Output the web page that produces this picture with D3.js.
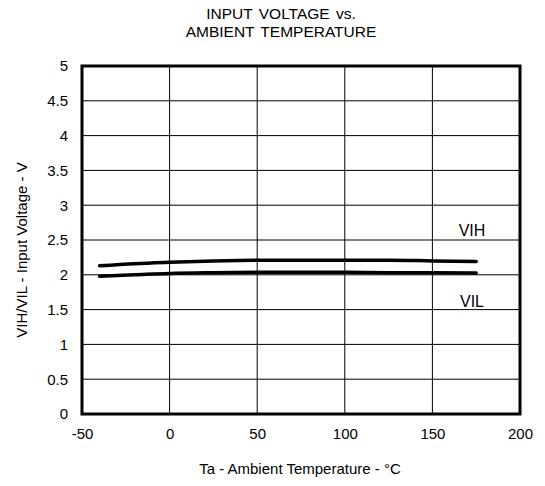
<!DOCTYPE html>
<html><head><meta charset="utf-8">
<script src="https://cdn.jsdelivr.net/npm/d3@7"></script>
<style>body{margin:0;background:#fff}svg{display:block;font-family:"Liberation Sans",Arial,sans-serif}</style>
</head><body><svg id="c" width="545" height="486"></svg>
<script>
const temps = [-40, -20, 0, 25, 50, 75, 100, 125, 150, 175];
const vih = [2.13, 2.16, 2.18, 2.20, 2.21, 2.21, 2.21, 2.21, 2.20, 2.19];
const vil = [1.98, 2.00, 2.02, 2.03, 2.035, 2.035, 2.035, 2.03, 2.03, 2.025];
const xTicks = [-50, 0, 50, 100, 150, 200];
const yTicks = [0, 0.5, 1, 1.5, 2, 2.5, 3, 3.5, 4, 4.5, 5];
const titleLines = ["INPUT VOLTAGE vs.", "AMBIENT TEMPERATURE"];

const svg = d3.select("#c");
const L = 82, R = 520, T = 66, B = 414;
const x = d3.scaleLinear().domain([-50, 200]).range([L, R]);
const y = d3.scaleLinear().domain([0, 5]).range([B, T]);

// grid
svg.append("g").selectAll("line").data(xTicks).join("line")
  .attr("x1", d => x(d)).attr("x2", d => x(d)).attr("y1", T).attr("y2", B)
  .attr("stroke", "#000").attr("stroke-width", 1);
svg.append("g").selectAll("line").data(yTicks).join("line")
  .attr("x1", L).attr("x2", R).attr("y1", d => y(d)).attr("y2", d => y(d))
  .attr("stroke", "#000").attr("stroke-width", 1);

// axes labels
const xa = svg.append("g").attr("transform", `translate(0,${B})`)
  .call(d3.axisBottom(x).tickValues(xTicks).tickSize(0).tickPadding(14).tickFormat(d => String(d)));
xa.select(".domain").remove();
xa.selectAll("text").attr("font-size", 15).attr("font-family", "Liberation Sans, Arial, sans-serif").attr("fill", "#000");
const ya = svg.append("g").attr("transform", `translate(${L},0)`)
  .call(d3.axisLeft(y).tickValues(yTicks).tickSize(0).tickPadding(14).tickFormat(d => String(d)));
ya.select(".domain").remove();
ya.selectAll("text").attr("font-size", 15).attr("font-family", "Liberation Sans, Arial, sans-serif").attr("fill", "#000");

// frame
svg.append("rect").attr("x", L).attr("y", T).attr("width", R - L).attr("height", B - T)
  .attr("fill", "none").attr("stroke", "#000").attr("stroke-width", 3);

// lines
const line = d3.line().x((d, i) => x(temps[i])).y(d => y(d)).curve(d3.curveMonotoneX);
[vih, vil].forEach(s => {
  svg.append("path").datum(s).attr("d", line).attr("fill", "none")
    .attr("stroke", "#000").attr("stroke-width", 3.5).attr("stroke-linecap", "round");
});

svg.append("text").attr("x", 472).attr("y", 236).attr("text-anchor", "middle")
  .attr("font-size", 16).text("VIH");
svg.append("text").attr("x", 472).attr("y", 307).attr("text-anchor", "middle")
  .attr("font-size", 16).text("VIL");

// title
svg.append("g").selectAll("text").data(titleLines).join("text")
  .attr("x", 281).attr("y", (d, i) => 19 + i * 18).attr("text-anchor", "middle")
  .attr("font-size", 15.5).attr("word-spacing", 2).text(d => d);

// axis titles
svg.append("text").attr("x", 300).attr("y", 474).attr("text-anchor", "middle")
  .attr("font-size", 15).text("Ta - Ambient Temperature  - °C");
svg.append("text").attr("transform", `translate(27,${(T + B) / 2 + 10}) rotate(-90)`)
  .attr("text-anchor", "middle").attr("font-size", 15).text("VIH/VIL - Input Voltage - V");
</script></body></html>
